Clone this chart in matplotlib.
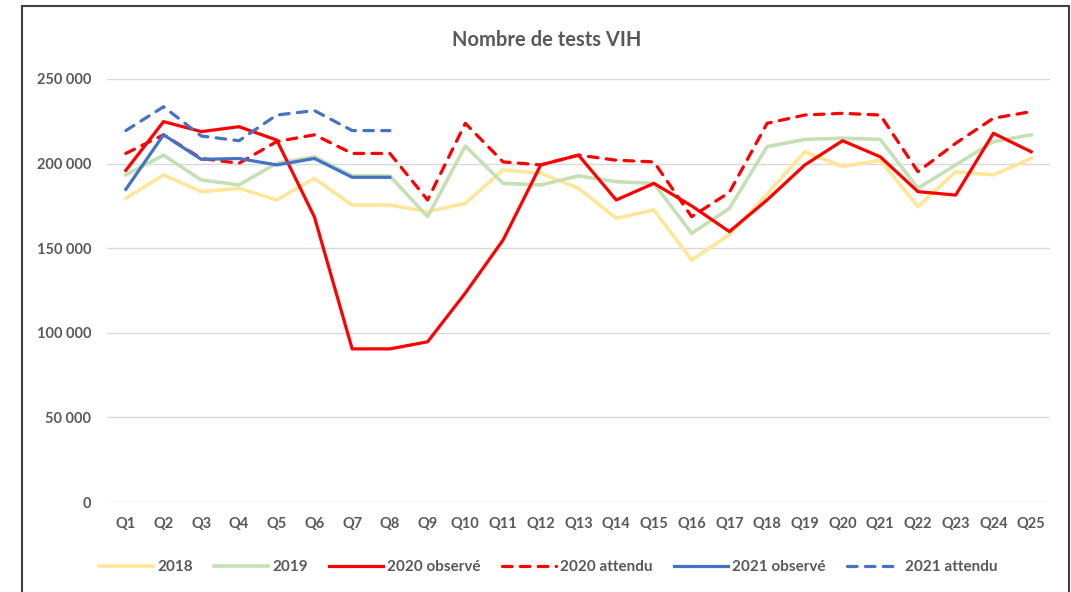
import matplotlib
matplotlib.use('Agg')
import matplotlib.pyplot as plt
from matplotlib.patches import Rectangle
from matplotlib.ticker import FuncFormatter

plt.rcParams['font.family'] = ['Lato', 'DejaVu Sans']

quarters = ['Q%d' % i for i in range(1, 26)]

y2018 = [179500, 193300, 183400, 185400, 178500, 191300, 175500, 175500, 171600, 176500,
         196200, 194300, 185400, 167700, 172600, 143000, 158000, 182000, 207000, 198200,
         202000, 174500, 195200, 193300, 203000]
y2019 = [193300, 205000, 190300, 187400, 200200, 204000, 192700, 192700, 168600, 210400,
         188300, 187400, 192700, 189300, 188300, 158800, 173500, 210000, 214300, 215000,
         214300, 185400, 199200, 213000, 217000]
y2020_obs = [196000, 224800, 218900, 221800, 213900, 168400, 90500, 90500, 94700, 123500,
             154800, 199200, 205000, 178500, 188300, 175000, 159800, 178500, 199200, 213500,
             204000, 183400, 181400, 217900, 207000]
y2020_att = [206000, 217000, 203000, 200200, 213000, 217000, 206000, 206000, 178500, 223800,
             201000, 199200, 205000, 202000, 201000, 168600, 183000, 223800, 228700, 229700,
             228700, 195200, 212000, 226800, 230700]
y2021_obs = [184800, 217000, 202500, 203000, 199200, 203000, 191900, 191900]
y2021_att = [219500, 233600, 216300, 213500, 228700, 231300, 219500, 219500]

fig = plt.figure(figsize=(10.71, 5.92), dpi=100)
ax = fig.add_axes([0.0999, 0.152, 0.8805, 0.7146])

# chart border
fig.patches.append(Rectangle((22 / 1071, -0.1), (1069 - 22) / 1071, 1 - 6 / 592 + 0.1,
                             transform=fig.transFigure, fill=False,
                             edgecolor='#404040', linewidth=1.5))

x = list(range(len(quarters)))
dash = (3.0, 2.6)
ax.plot(x, y2018, color='#FFE699', lw=2.6, label='2018')
ax.plot(x, y2019, color='#C5E0B4', lw=2.6, label='2019')
ax.plot(x, y2020_obs, color='#FF0000', lw=2.3, label='2020 observé')
ax.plot(x, y2020_att, color='#FF0000', lw=2.3, dashes=dash, dash_capstyle='round',
        label='2020 attendu')
ax.plot(x[:len(y2021_obs)], y2021_obs, color='#4472C4', lw=2.3, label='2021 observé')
ax.plot(x[:len(y2021_att)], y2021_att, color='#4472C4', lw=2.3, dashes=dash,
        dash_capstyle='round', label='2021 attendu')

ax.set_xlim(-0.5, len(quarters) - 0.5)
ax.set_ylim(0, 250000)
ax.set_yticks(range(0, 250001, 50000))
ax.yaxis.set_major_formatter(FuncFormatter(lambda v, p: '{:,}'.format(int(v)).replace(',', ' ')))
ax.set_xticks(x)
ax.set_xticklabels(quarters)
ax.grid(axis='y', color='#D9D9D9', lw=1)
ax.set_axisbelow(True)
for s in ax.spines.values():
    s.set_visible(False)
ax.tick_params(length=0, colors='#595959', labelsize=10.5)
ax.tick_params(axis='x', pad=10.5)
ax.tick_params(axis='y', pad=11.5)
for t in ax.get_xticklabels() + ax.get_yticklabels():
    t.set_fontweight('bold')

fig.text(0.51, 0.932, 'Nombre de tests VIH', ha='center', va='center',
         fontsize=14.5, fontweight='bold', color='#595959')

leg = fig.legend(loc='center', bbox_to_anchor=(0.512, 0.042), ncol=6, frameon=False,
                 handlelength=3.5, columnspacing=1.4, handletextpad=0.3,
                 prop={'size': 11, 'weight': 'bold'})
for t in leg.get_texts():
    t.set_color('#595959')

fig.savefig('out.png', dpi=100)
